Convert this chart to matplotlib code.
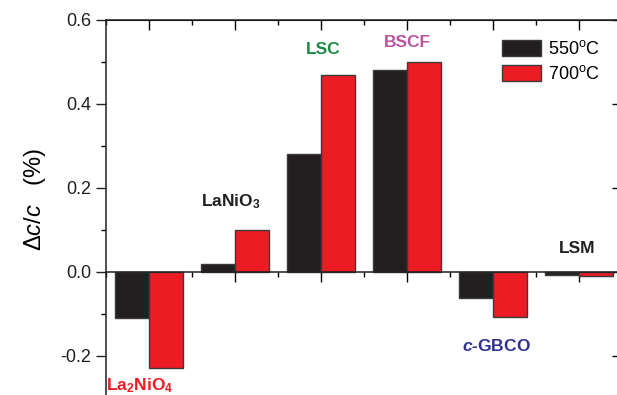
import numpy as np
import matplotlib
matplotlib.use("Agg")
import matplotlib.pyplot as plt
from matplotlib.ticker import MultipleLocator

plt.rcParams['font.family'] = ['Liberation Sans', 'DejaVu Sans']
plt.rcParams['mathtext.fontset'] = 'custom'
plt.rcParams['mathtext.rm'] = 'Liberation Sans'
plt.rcParams['mathtext.it'] = 'Liberation Sans:italic'
plt.rcParams['mathtext.bf'] = 'Liberation Sans:bold'
plt.rcParams['mathtext.bfit'] = 'Liberation Sans:bold:italic'

# data
materials = ["$\\mathbf{La_2NiO_4}$", "$\\mathbf{LaNiO_3}$", "LSC", "BSCF", "$\\mathbfit{c}$-GBCO", "LSM"]
label_colors = ["#ed1c24", "#231f20", "#1b8a43", "#b9559f", "#2e3192", "#231f20"]
label_x = [0.895, 1.95, 3.02, 4.0, 5.04, 5.98]
label_y = [-0.27, 0.167, 0.53, 0.547, -0.177, 0.057]
vals_550 = [-0.11, 0.02, 0.28, 0.48, -0.062, -0.006]
vals_700 = [-0.228, 0.10, 0.47, 0.50, -0.107, -0.009]

x = np.arange(1, len(materials) + 1)
w = 0.4

fig = plt.figure(figsize=(6.17, 3.95), dpi=100)
ax = fig.add_axes([106 / 617, 1 - 398 / 395, 516 / 617, 378 / 395])

ax.bar(x - w / 2, vals_550, w, color="#231f20", edgecolor="#3a3a3a", linewidth=1, label="550$^{\\mathrm{o}}$C", zorder=2)
ax.bar(x + w / 2, vals_700, w, color="#ed1c24", edgecolor="#3a3a3a", linewidth=1, label="700$^{\\mathrm{o}}$C", zorder=2)

for lx, ly, name, c in zip(label_x, label_y, materials, label_colors):
    ax.text(lx, ly, name, color=c, fontsize=12.5, fontweight="bold", ha="center", va="center")

ax.set_xlim(0.5, 6.5)
ax.set_ylim(-0.3, 0.6)

ax.spines['bottom'].set_position(('data', 0))
for s in ax.spines.values():
    s.set_linewidth(1.1)
    s.set_color("#231f20")

ax.set_xticks(x)
ax.xaxis.set_minor_locator(MultipleLocator(0.5))
ax.set_xticklabels([])
ax.tick_params(axis='x', which='major', direction='out', length=7, width=1)
ax.tick_params(axis='x', which='minor', direction='out', length=3.5, width=1)

ax.set_yticks([-0.2, 0.0, 0.2, 0.4, 0.6])
ax.set_yticklabels(["-0.2", "0.0", "0.2", "0.4", "0.6"])
ax.yaxis.set_minor_locator(MultipleLocator(0.1))
ax.tick_params(axis='y', which='major', direction='out', length=7, width=1, labelsize=13,
               colors="#231f20")
ax.tick_params(axis='y', which='minor', direction='out', length=3.5, width=1)

# right side ticks pointing inward
right = ax.secondary_yaxis('right')
right.set_yticks([-0.2, 0.0, 0.2, 0.4, 0.6])
right.yaxis.set_minor_locator(MultipleLocator(0.1))
right.set_yticklabels([])
right.tick_params(which='major', direction='in', length=7, width=1)
right.tick_params(which='minor', direction='in', length=3.5, width=1)

# top ticks pointing inward
top = ax.secondary_xaxis('top')
top.set_xticks(x)
top.xaxis.set_minor_locator(MultipleLocator(0.5))
top.set_xticklabels([])
top.tick_params(which='major', direction='in', length=7, width=1)
top.tick_params(which='minor', direction='in', length=3.5, width=1)

ax.set_ylabel("$\\Delta c/c$   (%)", fontsize=17)
ax.yaxis.set_label_coords(-0.112, 0.524)

ax.legend(loc='upper left', bbox_to_anchor=(0.735, 0.99), frameon=False, fontsize=13,
          handlelength=2.2, handleheight=1.0, handletextpad=0.4, labelspacing=0.35)

fig.savefig("out.png", dpi=100)
